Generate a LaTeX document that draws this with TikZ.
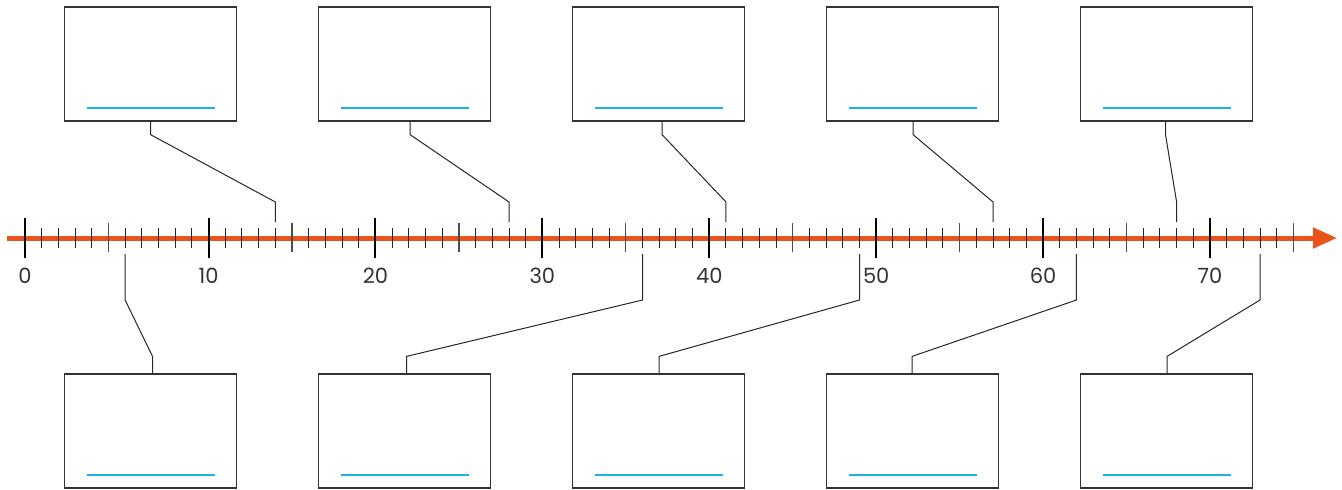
\documentclass[tikz,border=0pt]{standalone}
\usepackage{fontspec}
\setmainfont{Poppins}
\usepackage{tikz}
\usetikzlibrary{positioning,arrows.meta,calc}
\usepackage{xcolor}
\definecolor{axisorange}{HTML}{E9541A}
\definecolor{lineblue}{HTML}{1BB3EA}
\definecolor{boxgray}{HTML}{333333}

\begin{document}
\begin{tikzpicture}[
    x=1pt, y=-1pt,
    axisline/.style={line width=5pt, draw=axisorange, -{Triangle[length=24pt,width=20pt]}},
    minortick/.style={line width=1pt, draw=black!85},
    midtick/.style={line width=1.3pt, draw=black!70},
    majortick/.style={line width=2pt, draw=black},
    card/.style={draw=boxgray, line width=1.2pt, minimum width=172pt, minimum height=114pt, inner sep=0pt},
    blank/.style={line width=2pt, draw=lineblue},
    conn/.style={line width=1pt, draw=black!85},
    every label node/.style={font=\fontsize{21}{21}\selectfont, text=black!80}
]
    \useasboundingbox (0,0) rectangle (1342,490);

    % axis
    \coordinate (axisstart) at (7,238);
    \coordinate (axisend) at (1337,238);
    \draw[axisline] (axisstart) -- (axisend);

    % ticks
    \foreach \i in {0,...,76}
        \draw[minortick] (25+16.69*\i,228) -- (25+16.69*\i,248);
    \foreach \i in {5,16,26,36,46,56,66,76}
        \draw[midtick] (25+16.69*\i,223) -- (25+16.69*\i,252);
    \foreach \i in {0,11,21,31,41,51,61,71}
        \draw[majortick] (25+16.69*\i,218) -- (25+16.69*\i,258);

    % labels
    \foreach \v/\i in {0/0,10/11,20/21,30/31,40/41,50/51,60/61,70/71}
        \node[every label node] (l\v) at (25+16.69*\i,276) {\v};

    % cards above and below
    \foreach \k in {1,...,5} {
        \node[card] (t\k) at (150.5+254*\k-254,64) {};
        \node[card] (b\k) at (150.5+254*\k-254,431) {};
        \draw[blank] ($(t\k.center)+(-64,44)$) -- ($(t\k.center)+(64,44)$);
        \draw[blank] ($(b\k.center)+(-64,44)$) -- ($(b\k.center)+(64,44)$);
    }

    % connectors to the top cards
    \foreach \k/\i/\dx in {1/15/0,2/29/5.5,3/42/3.5,4/58/0.5,5/69/-1} {
        \coordinate (u\k) at (25+16.69*\i,222);
        \draw[conn] ([xshift=\dx pt]t\k.south) -- ++(0,13) -- ([yshift=20pt]u\k) -- (u\k);
    }

    % connectors to the bottom cards
    \foreach \k/\i/\dx in {1/6/2,2/37/2,3/50/0.5,4/63/-0.5,5/74/0.5} {
        \coordinate (d\k) at (25+16.69*\i,254);
        \draw[conn] (d\k) -- ([yshift=-46pt]d\k) -- ([xshift=\dx pt,yshift=17pt]b\k.north) -- ([xshift=\dx pt]b\k.north);
    }
\end{tikzpicture}
\end{document}
